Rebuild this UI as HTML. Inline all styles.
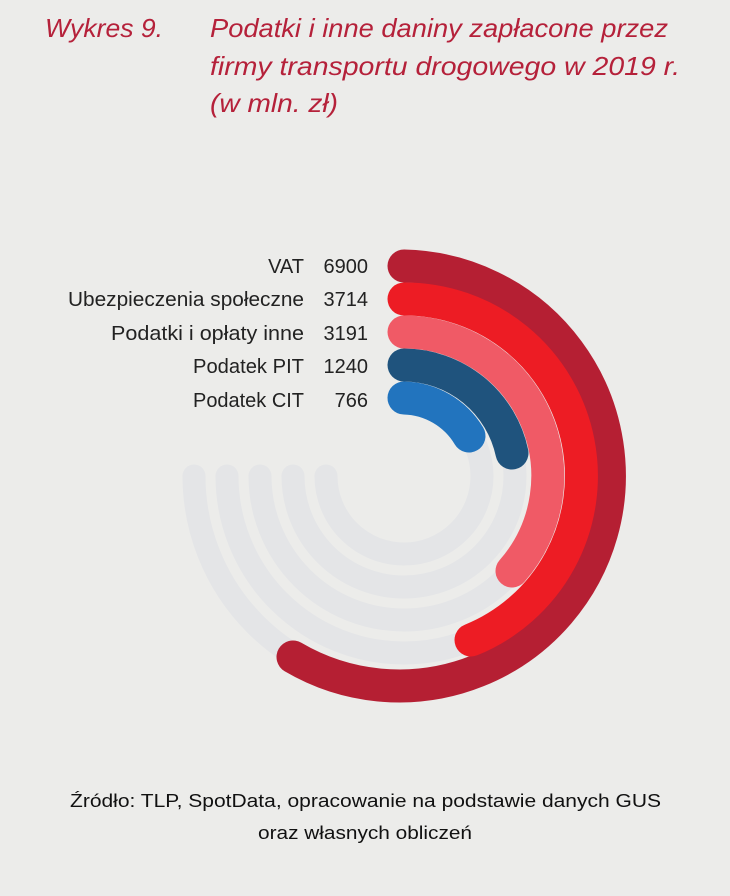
<!DOCTYPE html>
<html><head><meta charset="utf-8"><style>
html,body{margin:0;padding:0;background:#ececea;}
svg{display:block}
</style></head><body>
<svg width="730" height="896" viewBox="0 0 730 896" xmlns="http://www.w3.org/2000/svg">
<rect width="730" height="896" fill="#ececea"/>
<g font-family="'Liberation Sans', sans-serif" font-style="italic" font-size="26" fill="#b5213a">
<text x="45" y="37" textLength="118" lengthAdjust="spacingAndGlyphs">Wykres 9.</text>
<text x="210" y="37" textLength="458" lengthAdjust="spacingAndGlyphs">Podatki i inne daniny zapłacone przez</text>
<text x="210" y="75" textLength="470" lengthAdjust="spacingAndGlyphs">firmy transportu drogowego w 2019 r.</text>
<text x="210" y="112" textLength="128" lengthAdjust="spacingAndGlyphs">(w mln. zł)</text>
</g>
<g fill="none" stroke="#e4e5e7" stroke-width="23" stroke-linecap="round">
<path d="M404 266 A210 210 0 1 1 194 476"/>
<path d="M404 299 A177 177 0 1 1 227 476"/>
<path d="M404 332 A144 144 0 1 1 260 476"/>
<path d="M404 365 A111 111 0 1 1 293 476"/>
<path d="M404 398 A78 78 0 1 1 326 476"/>
</g>
<g fill="none" stroke-width="33" stroke-linecap="round">
<path d="M404 266 A210 210 0 1 1 293 657" stroke="#b51f33"/>
<path d="M404 299 A177 177 0 0 1 471 640" stroke="#ed1c24"/>
<path d="M404 332 A144 144 0 0 1 512 571" stroke="#f05a66"/>
<path d="M404 365 A111 111 0 0 1 512 453" stroke="#1f537d"/>
<path d="M404 398 A78 78 0 0 1 469 436" stroke="#2274be"/>
</g>
<g font-family="'Liberation Sans', sans-serif" font-size="20" fill="#222" text-anchor="end">
<text x="304" y="273">VAT</text>
<text x="304" y="306" textLength="236" lengthAdjust="spacingAndGlyphs">Ubezpieczenia społeczne</text>
<text x="304" y="340" textLength="193" lengthAdjust="spacingAndGlyphs">Podatki i opłaty inne</text>
<text x="304" y="373" textLength="111" lengthAdjust="spacingAndGlyphs">Podatek PIT</text>
<text x="304" y="407" textLength="111" lengthAdjust="spacingAndGlyphs">Podatek CIT</text>
<text x="368" y="273">6900</text>
<text x="368" y="306">3714</text>
<text x="368" y="340">3191</text>
<text x="368" y="373">1240</text>
<text x="368" y="407">766</text>
</g>
<g font-family="'Liberation Sans', sans-serif" font-size="18" fill="#111">
<text x="70" y="807" textLength="591" lengthAdjust="spacingAndGlyphs">Źródło: TLP, SpotData, opracowanie na podstawie danych GUS</text>
<text x="258" y="839" textLength="214" lengthAdjust="spacingAndGlyphs">oraz własnych obliczeń</text>
</g>
</svg>
</body></html>
